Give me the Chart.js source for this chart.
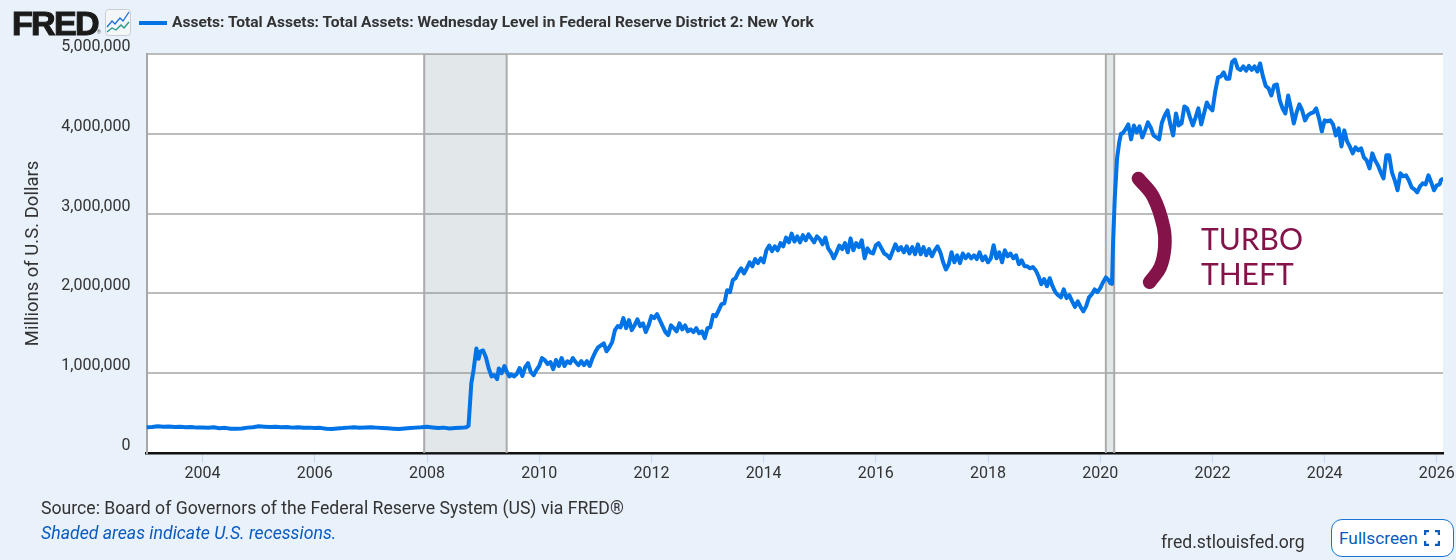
<!DOCTYPE html>
<html>
<head>
<meta charset="utf-8">
<title>FRED</title>
<script src="https://cdn.jsdelivr.net/npm/chart.js@4/dist/chart.umd.min.js"></script>
<style>
  html, body { margin: 0; padding: 0; width: 1456px; height: 560px; overflow: hidden; background: #e9f1fa; font-family: Roboto, sans-serif; color: #333; }
  canvas { position: absolute; left: 0; top: 0; }
  .abs { position: absolute; white-space: nowrap; }
  #logo { left: 12px; top: 3px; font: 900 34px/40px "Liberation Sans", sans-serif; letter-spacing: -1.7px; color: #1a1a1a; -webkit-text-stroke: 1.1px #1a1a1a; }
  #reg { left: 97px; top: 29px; font-size: 5px; color: #555; }
  #legendText { left: 172px; top: 13px; font: 700 15.55px/19px Roboto, sans-serif; color: #333; }
  #source { left: 41px; top: 498px; font: 400 17.65px/20px Roboto, sans-serif; }
  #shaded { left: 41px; top: 523px; font: italic 400 17.7px/20px Roboto, sans-serif; color: #0a5bc0; }
  #site { left: 1161px; top: 532px; font: 400 17.6px/20px Roboto, sans-serif; }
  #full { left: 1331px; top: 519px; width: 114px; height: 36px; border: 1.5px solid #1a74d8; border-radius: 11px; background: #fff; font: 400 17.3px/36px Roboto, sans-serif; color: #0a5bc0; padding-left: 7px; box-sizing: content-box; }
  #full svg { position: absolute; left: 92px; top: 10px; }
  .note { font: 400 30px/35px Lato, sans-serif; color: #84134a; }
</style>
</head>
<body>
<canvas id="assetsChart" width="1456" height="560"></canvas>
<div class="abs" id="logo">FRED</div>
<div class="abs" id="reg">®</div>
<svg class="abs" style="left:105px;top:9px" width="26" height="27" viewBox="0 0 26 27">
  <rect x="0.5" y="0.5" width="25" height="26" rx="3" fill="#f4f6f8" stroke="#c9ced4"/>
  <polyline points="2,18 7,12 10,15 15,9 18,12 24,3" fill="none" stroke="#1a6fd6" stroke-width="1.3"/>
  <polyline points="2,23 7,19 11,21 16,16 19,19 24,13" fill="none" stroke="#1f9a86" stroke-width="1.3"/>
</svg>
<svg class="abs" style="left:139px;top:21px" width="28" height="4"><rect width="28" height="4" fill="#0073e6"/></svg>
<div class="abs" id="legendText">Assets: Total Assets: Total Assets: Wednesday Level in Federal Reserve District 2: New York</div>
<div class="abs" id="source">Source: Board of Governors of the Federal Reserve System (US) via FRED®</div>
<div class="abs" id="shaded">Shaded areas indicate U.S. recessions.</div>
<div class="abs" id="site">fred.stlouisfed.org</div>
<div class="abs" id="full">Fullscreen<svg width="16" height="16" viewBox="0 0 16 16" fill="none" stroke="#0a5bc0" stroke-width="2.4"><path d="M1 5V1H5M11 1H15V5M15 11V15H11M5 15H1V11"/></svg></div>
<div class="abs note" style="left:1201px;top:221px">TURBO</div>
<div class="abs note" style="left:1201px;top:256px">THEFT</div>

<script>
const dates = [
  2003.0,2003.1,2003.2,2003.3,2003.4,2003.5,2003.6,2003.7,2003.8,2003.9,
  2004.0,2004.1,2004.2,2004.3,2004.4,2004.5,2004.6,2004.7,2004.8,2004.9,
  2005.0,2005.1,2005.2,2005.3,2005.4,2005.5,2005.6,2005.7,2005.8,2005.9,
  2006.0,2006.1,2006.2,2006.3,2006.4,2006.5,2006.6,2006.7,2006.8,2006.9,
  2007.0,2007.1,2007.2,2007.3,2007.4,2007.5,2007.6,2007.7,2007.8,2007.9,
  2008.0,2008.1,2008.2,2008.3,2008.4,2008.5,2008.6,2008.65,
  2008.70,2008.74,2008.79,2008.83,2008.88,2008.92,2008.95,
  2009.00,2009.05,2009.10,2009.15,2009.20,2009.25,2009.28,2009.33,2009.38,2009.42,2009.47,
  2009.50,2009.55,2009.60,2009.65,2009.70,2009.75,2009.80,2009.85,2009.90,2009.95,
  2010.00,2010.05,2010.10,2010.15,2010.20,2010.25,2010.30,2010.35,2010.40,2010.45,2010.50,2010.55,2010.60,2010.65,2010.70,2010.75,2010.80,2010.85,2010.90,2010.95,
  2011.00,2011.05,2011.10,2011.15,2011.20,2011.25,2011.30,2011.35,2011.40,2011.45,2011.50,2011.55,2011.60,2011.65,2011.70,2011.75,2011.80,2011.85,2011.90,2011.95,
  2012.00,2012.05,2012.10,2012.15,2012.20,2012.25,2012.30,2012.35,2012.40,2012.45,2012.50,2012.55,2012.60,2012.65,2012.70,2012.75,2012.80,2012.85,2012.90,2012.95,
  2013.00,2013.05,2013.10,2013.15,2013.20,2013.25,2013.30,2013.35,2013.40,2013.45,2013.50,2013.55,2013.60,2013.65,2013.70,2013.75,2013.80,2013.85,2013.90,2013.95,
  2014.00,2014.05,2014.10,2014.15,2014.20,2014.25,2014.30,2014.35,2014.40,2014.45,2014.50,2014.55,2014.60,2014.65,2014.70,2014.75,2014.80,2014.85,2014.90,2014.95,
  2015.00,2015.05,2015.10,2015.15,2015.20,2015.25,2015.30,2015.35,2015.40,2015.45,2015.50,2015.55,2015.60,2015.65,2015.70,2015.75,2015.80,2015.85,2015.90,2015.95,
  2016.00,2016.05,2016.10,2016.15,2016.20,2016.25,2016.30,2016.35,2016.40,2016.45,2016.50,2016.55,2016.60,2016.65,2016.70,2016.75,2016.80,2016.85,2016.90,2016.95,
  2017.00,2017.05,2017.10,2017.15,2017.20,2017.25,2017.30,2017.35,2017.40,2017.45,2017.50,2017.55,2017.60,2017.65,2017.70,2017.75,2017.80,2017.85,2017.90,2017.95,
  2018.00,2018.05,2018.10,2018.15,2018.20,2018.25,2018.30,2018.35,2018.40,2018.45,2018.50,2018.55,2018.60,2018.65,2018.70,2018.75,2018.80,2018.85,2018.90,2018.95,
  2019.00,2019.05,2019.10,2019.15,2019.20,2019.25,2019.30,2019.35,2019.40,2019.45,2019.50,2019.55,2019.60,2019.65,2019.70,2019.75,2019.80,2019.85,2019.90,2019.95,
  2020.00,2020.05,2020.10,2020.15,2020.18,2020.21,2020.23,2020.26,2020.30,2020.34,2020.37,
  2020.40,2020.45,2020.50,2020.55,2020.60,2020.65,2020.70,2020.75,2020.80,2020.85,2020.90,2020.95,
  2021.00,2021.05,2021.10,2021.15,2021.20,2021.25,2021.30,2021.35,2021.40,2021.45,2021.50,2021.55,2021.60,2021.65,2021.70,2021.75,2021.80,2021.85,2021.90,2021.95,
  2022.00,2022.05,2022.10,2022.15,2022.20,2022.25,2022.30,2022.35,2022.40,2022.45,2022.50,2022.55,2022.60,2022.65,2022.70,2022.75,2022.80,2022.85,2022.90,2022.95,
  2023.00,2023.05,2023.10,2023.15,2023.20,2023.25,2023.30,2023.35,2023.40,2023.45,2023.50,2023.55,2023.60,2023.65,2023.70,2023.75,2023.80,2023.85,2023.90,2023.95,
  2024.00,2024.05,2024.10,2024.15,2024.20,2024.25,2024.30,2024.35,2024.40,2024.45,2024.50,2024.55,2024.60,2024.65,2024.70,2024.75,2024.80,2024.85,2024.90,2024.95,
  2025.00,2025.05,2025.10,2025.15,2025.20,2025.25,2025.30,2025.35,2025.40,2025.45,2025.50,2025.55,2025.60,2025.65,2025.70,2025.75,2025.80,2025.85,2025.90,2025.95,
  2026.00,2026.05,2026.07,2026.09,2026.11
];
const assets = [
  322000,325000,336000,330000,332000,325000,328000,322000,325000,318000,
  320000,316000,322000,310000,315000,305000,303000,308000,318000,322000,
  335000,330000,325000,328000,322000,325000,318000,322000,315000,318000,
  312000,315000,305000,302000,308000,312000,318000,322000,316000,320000,
  322000,318000,314000,310000,305000,300000,306000,312000,318000,322000,
  328000,320000,312000,318000,308000,312000,316000,318000,
  322000,340000,876000,1039000,1310000,1180000,1270000,
  1285000,1200000,1060000,960000,975000,925000,1060000,1000000,1090000,1020000,960000,
  985000,960000,990000,1065000,965000,1075000,1125000,1015000,975000,1040000,
  1090000,1190000,1165000,1115000,1140000,1050000,1165000,1090000,1190000,1090000,1150000,1125000,1190000,1140000,1100000,1150000,1100000,1150000,1090000,1190000,
  1265000,1325000,1350000,1375000,1275000,1325000,1390000,1540000,1590000,1575000,1690000,1565000,1665000,1540000,1600000,1675000,1590000,1625000,1515000,1600000,
  1715000,1690000,1740000,1665000,1590000,1515000,1477000,1600000,1565000,1525000,1625000,1550000,1600000,1525000,1550000,1515000,1565000,1500000,1525000,1440000,
  1565000,1575000,1730000,1715000,1790000,1865000,1875000,2040000,2015000,2165000,2190000,2265000,2315000,2250000,2315000,2390000,2340000,2430000,2380000,2440000,
  2390000,2540000,2600000,2530000,2590000,2540000,2630000,2590000,2700000,2640000,2750000,2650000,2715000,2640000,2730000,2665000,2740000,2690000,2640000,2715000,
  2680000,2615000,2700000,2565000,2515000,2440000,2515000,2600000,2555000,2630000,2515000,2690000,2540000,2630000,2580000,2665000,2440000,2565000,2515000,2500000,
  2603000,2630000,2565000,2500000,2478000,2440000,2530000,2615000,2540000,2580000,2515000,2590000,2500000,2580000,2490000,2615000,2490000,2580000,2478000,2555000,
  2465000,2540000,2590000,2515000,2390000,2300000,2365000,2515000,2390000,2478000,2380000,2500000,2440000,2490000,2440000,2478000,2430000,2515000,2415000,2465000,
  2390000,2440000,2603000,2440000,2515000,2390000,2540000,2465000,2500000,2440000,2478000,2365000,2415000,2340000,2340000,2315000,2330000,2290000,2215000,2115000,
  2180000,2090000,2190000,2090000,2015000,1977000,1950000,2050000,1940000,1977000,1900000,1830000,1900000,1830000,1775000,1840000,1950000,1990000,2050000,2015000,
  2065000,2140000,2200000,2165000,2128000,2120000,2660000,3200000,3690000,3900000,4000000,
  4005000,4055000,4118000,3930000,4105000,4018000,4093000,3955000,4043000,4143000,4080000,3980000,
  3955000,3930000,4143000,4230000,4293000,4118000,3980000,4255000,4105000,4130000,4343000,4318000,4205000,4105000,4205000,4318000,4118000,4255000,4393000,4330000,
  4293000,4530000,4706000,4720000,4769000,4690000,4690000,4900000,4931000,4820000,4800000,4845000,4790000,4850000,4800000,4845000,4780000,4881000,4720000,4600000,
  4570000,4481000,4606000,4618000,4418000,4318000,4255000,4481000,4318000,4130000,4268000,4368000,4293000,4168000,4230000,4255000,4268000,4318000,4193000,4030000,
  4168000,4155000,4168000,4118000,3980000,4068000,3842000,4043000,3905000,3842000,3755000,3830000,3792000,3817000,3705000,3667000,3567000,3755000,3667000,3605000,
  3517000,3442000,3730000,3730000,3517000,3417000,3292000,3505000,3467000,3480000,3417000,3330000,3305000,3267000,3342000,3380000,3367000,3480000,3392000,3292000,
  3355000,3367000,3417000,3430000,3430000
];
const recessionStart = [2007.95, 2020.10];
const recessionEnd = [2009.42, 2020.25];
const yearTicks = [2004,2006,2008,2010,2012,2014,2016,2018,2020,2022,2024,2026];
const valueTicks = [0,1000000,2000000,3000000,4000000,5000000];
// the hand drawn marker stroke next to "TURBO THEFT"
const markX = [2020.68,2020.95,2021.13,2021.15,2021.07,2020.88];
const markY = [3440000,3204000,2829000,2578000,2328000,2140000];

const plotBackground = {
  id: "plotBackground",
  beforeDraw(chart) {
    const a = chart.chartArea;
    chart.ctx.fillStyle = "#fff";
    chart.ctx.fillRect(a.left, a.top, a.right - a.left, a.bottom - a.top);
  }
};

const bands = recessionStart.map((s, i) => ({
  label: "Recession",
  data: [{x: s, y: 0}, {x: s, y: 5000000}, {x: recessionEnd[i], y: 5000000}, {x: recessionEnd[i], y: 0}],
  borderColor: "#ababab",
  borderWidth: 2,
  backgroundColor: "rgba(120,140,155,0.21)",
  fill: "origin",
  pointRadius: 0,
  tension: 0,
  order: 3
}));

new Chart(document.getElementById("assetsChart").getContext("2d"), {
  type: "line",
  data: {
    datasets: [
      {
        label: "Assets: Total Assets: Total Assets: Wednesday Level in Federal Reserve District 2: New York",
        data: dates.map((d, i) => ({x: d, y: assets[i]})),
        borderColor: "#0073e6",
        borderWidth: 4,
        borderJoinStyle: "round",
        pointRadius: 0,
        tension: 0,
        order: 1
      },
      {
        label: "Turbo theft",
        data: markX.map((x, i) => ({x: x, y: markY[i]})),
        borderColor: "#84134a",
        borderWidth: 13.5,
        borderCapStyle: "round",
        borderJoinStyle: "round",
        pointRadius: 0,
        tension: 0.4,
        order: 2
      },
      ...bands
    ]
  },
  plugins: [plotBackground],
  options: {
    responsive: false,
    animation: false,
    events: [],
    layout: { autoPadding: false, padding: { top: 54, right: 13, bottom: 67, left: 0 } },
    plugins: { legend: { display: false }, tooltip: { enabled: false } },
    scales: {
      x: {
        type: "linear",
        min: 2003,
        max: 2026.11,
        afterBuildTicks: s => { s.ticks = yearTicks.map(v => ({value: v})); },
        afterFit: s => { s.height = 40; },
        grid: { drawOnChartArea: false, drawTicks: true, tickColor: "#ccd6eb", tickLength: 10 },
        border: { color: "#111", width: 2.5 },
        ticks: {
          color: "#333",
          font: { family: "Roboto", size: 16 },
          padding: 1,
          maxRotation: 0,
          autoSkip: false,
          callback: v => String(v)
        }
      },
      y: {
        min: 0,
        max: 5000000,
        afterBuildTicks: s => { s.ticks = valueTicks.map(v => ({value: v})); },
        afterFit: s => { s.width = 146.5; },
        grid: { color: "#bcbcbc", lineWidth: 2, drawTicks: false },
        border: { color: "#a8a8a8", width: 2 },
        title: {
          display: true,
          text: "Millions of U.S. Dollars",
          color: "#333",
          font: { family: "Roboto", size: 18.5 },
          padding: { top: 22, bottom: 0 }
        },
        ticks: {
          color: "#333",
          font: { family: "Roboto", size: 16 },
          padding: 16,
          labelOffset: -7,
          callback: v => v.toLocaleString("en-US")
        }
      }
    }
  }
});
</script>
</body>
</html>
